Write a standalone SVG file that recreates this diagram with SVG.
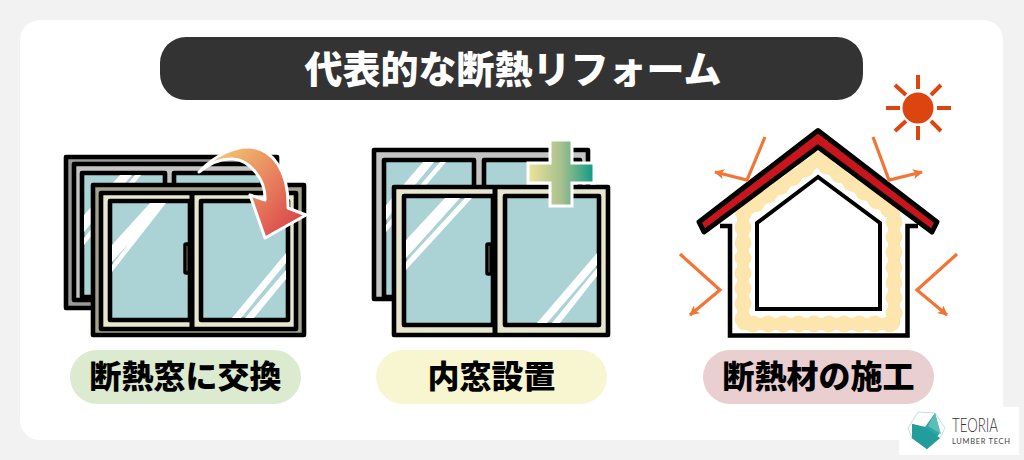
<svg xmlns="http://www.w3.org/2000/svg" width="1024" height="460" viewBox="0 0 1024 460">
<style>
.k{stroke:#000;stroke-width:4.600;stroke-linejoin:round}
.g{fill:#abd3d5}
.w{fill:#fff}
.t{font-family:"Noto Sans CJK JP","Noto Sans",sans-serif;font-weight:900;text-anchor:middle}
.o{fill:none;stroke:#f37536;stroke-width:3.200;marker-end:url(#ah)}
.s{stroke:#dc4510;stroke-width:4}
</style>
<defs>
<linearGradient id="g1" gradientUnits="userSpaceOnUse" x1="215" y1="148" x2="305" y2="225"><stop offset="0" stop-color="#f5cc72"/><stop offset="1" stop-color="#da3f4a"/></linearGradient>
<linearGradient id="g2" gradientUnits="userSpaceOnUse" x1="528" y1="170" x2="594" y2="170"><stop offset="0" stop-color="#eee49a"/><stop offset="0.5" stop-color="#a8c08e"/><stop offset="1" stop-color="#0f9a85"/></linearGradient>
<marker id="ah" markerUnits="userSpaceOnUse" markerWidth="12" markerHeight="10" refX="9" refY="5" orient="auto"><path d="M0 0L10 5L0 10L2.500 5Z" fill="#f37536"/></marker>
<clipPath id="c1"><rect x="84" y="175" width="79" height="120"/></clipPath>
<clipPath id="c2"><rect x="112" y="203" width="78" height="115"/></clipPath>
<clipPath id="c3"><rect x="203" y="203" width="83" height="115"/></clipPath>
<clipPath id="c4"><rect x="386" y="162" width="86" height="135"/></clipPath>
<clipPath id="c5"><rect x="406" y="198" width="87" height="125"/></clipPath>
<clipPath id="c6"><rect x="507" y="198" width="90" height="125"/></clipPath>
</defs>
<rect width="1024" height="460" fill="#f2f2f2"/>
<rect x="20" y="20" width="983" height="420" rx="20" fill="#fff"/>

<g id="title"><rect x="160" y="37" width="703" height="63" rx="26" fill="#333"/><text class="t" x="513" y="83" font-size="38" fill="#fff">代表的な断熱リフォーム</text></g>

<g id="window-exchange">
<rect class="k" x="66" y="157" width="211" height="151" fill="#999"/>
<rect class="k" x="74" y="164" width="195" height="136" fill="#c4c4c4"/>
<rect class="k g" x="82" y="173" width="83" height="124"/>
<rect class="k g" x="174" y="173" width="88" height="124"/>
<g clip-path="url(#c1)"><path class="w" d="M84 215L120 175H132L84 232ZM84 238L135 175H141L84 245Z"/></g>
<rect class="k" x="93" y="185" width="211" height="150" fill="#a3a38c"/>
<rect class="k" x="101" y="193" width="195" height="136" fill="#e8e6cf"/>
<rect x="189.500" y="193" width="5" height="136"/>
<rect class="k g" x="110" y="201" width="80" height="119"/>
<rect class="k g" x="201" y="201" width="87" height="119"/>
<g clip-path="url(#c2)"><path class="w" d="M112 245L150 203H165L112 262ZM112 265L160 203H166L112 272Z"/></g>
<g clip-path="url(#c3)"><path class="w" d="M232 318L286 253V263L241 318ZM245 318L286 270V279L254 318Z"/></g>
<rect x="185" y="244" width="4" height="29" rx="1" fill="#e8e6cf" stroke="#000" stroke-width="3.500"/>
<path d="M199 172C215 155 235 146 250 147C272 149 289 170 288 208L306 215L265 238L250 195L265 200C266 180 250 160 233 159C221 158 210 163 199 172Z" fill="url(#g1)" stroke="#fff" stroke-width="3" stroke-linejoin="round"/>
</g>

<g id="window-inner">
<rect class="k" x="374" y="150" width="214" height="149" fill="#c4c4c4"/>
<rect class="k g" x="384" y="160" width="90" height="137"/>
<rect class="k g" x="484" y="160" width="96" height="137"/>
<g clip-path="url(#c4)"><path class="w" d="M386 205L423 162H434L386 220ZM386 225L440 162H446L386 232Z"/></g>
<rect class="k" x="394" y="187" width="214" height="148" fill="#e8e6cf"/>
<rect x="492.500" y="187" width="5" height="148"/>
<rect class="k g" x="404" y="196" width="89" height="129"/>
<rect class="k g" x="505" y="196" width="94" height="129"/>
<g clip-path="url(#c5)"><path class="w" d="M406 240L445 198H460L406 258ZM406 262L465 198H472L406 270Z"/></g>
<g clip-path="url(#c6)"><path class="w" d="M537 323L597 253V265L547 323ZM552 323L597 268V276L560 323Z"/></g>
<rect x="487" y="244" width="4" height="30" rx="1" fill="#e8e6cf" stroke="#000" stroke-width="3.500"/>
<path d="M550 140H572V163H594V183H572V206H550V183H528V163H550Z" fill="url(#g2)" stroke="#fff" stroke-width="3"/>
</g>

<g id="house">
<path d="M720 226H730V335.500H907.500V226H918L818 145Z" fill="#fff"/>
<path d="M720 226H730V335.500H907.500V226H918" fill="none" stroke="#000" stroke-width="4.500"/>
<path d="M818 160L743 213V324H894V213Z" fill="none" stroke="#fde6ae" stroke-width="12" stroke-linejoin="round"/>
<path d="M818 160L743 213V324H894V213Z" fill="none" stroke="#fde6ae" stroke-width="17" stroke-linecap="round" stroke-dasharray="0 15.200"/>
<path d="M818 177L757 223V309H880V223Z" fill="#fff" stroke="#000" stroke-width="4" stroke-linejoin="miter"/>
<path d="M818 130.500L699 222L704 232L818 147L932 232L937 222Z" fill="#c9161d" stroke="#000" stroke-width="5" stroke-linejoin="round"/>
</g>

<g id="sun">
<circle cx="918" cy="108" r="15.500" fill="#dc4510"/>
<path class="s" d="M918 75V89M918 126V140M886 108H900M937 108H951M895 85L906 95M941 85L931 95M895 131L906 121M941 131L931 121"/>
</g>

<g id="connectors">
<path class="o" d="M765 137L747 180L715 172"/>
<path class="o" d="M873 137L889 180L922 172"/>
<path class="o" d="M680 254L720 290L690 315"/>
<path class="o" d="M957 254L917 290L947 315"/>
</g>

<g id="label-1"><rect x="70" y="350" width="231" height="54" rx="27" fill="#dcebd0"/><text class="t" x="185.500" y="388" font-size="32">断熱窓に交換</text></g>
<g id="label-2"><rect x="376" y="350" width="231" height="54" rx="27" fill="#f7f6d0"/><text class="t" x="491.500" y="388" font-size="32">内窓設置</text></g>
<g id="label-3"><rect x="703" y="350" width="231" height="54" rx="27" fill="#e9cfd0"/><text class="t" x="818.500" y="388" font-size="32">断熱材の施工</text></g>

<g id="logo">
<rect x="899" y="407" width="120" height="48" fill="#fff"/>
<path d="M908 428L918 412L935 413L945 428L940 438L927 449L912 438Z" fill="none" stroke="#9fd6d3" stroke-width="0.700"/>
<path d="M912 424L925 427L935 413L940 433L927 449L912 438Z" fill="#2aa7a6"/>
<path d="M928 426L935 413L941 434Z" fill="#5fbdb8"/>
<path d="M912 424L925 427L940 438L927 449L912 438Z" fill="#239c9c"/>
<text x="952" y="432" font-family="Lato,sans-serif" font-weight="300" font-size="19" fill="#333" textLength="46" lengthAdjust="spacingAndGlyphs">TEORIA</text>
<text x="952" y="444" font-family="Lato,sans-serif" font-size="7.500" fill="#444" textLength="58">LUMBER TECH</text>
</g>
</svg>
